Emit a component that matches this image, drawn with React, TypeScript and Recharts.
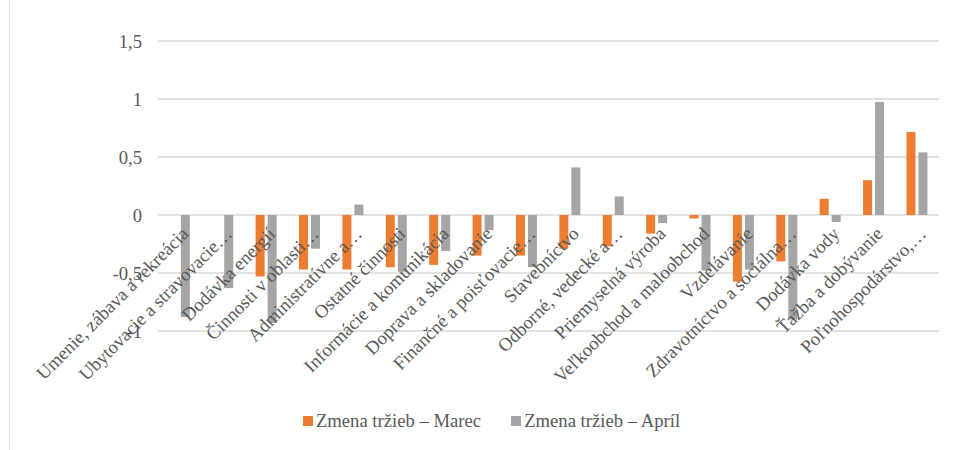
import { BarChart, Bar, XAxis, YAxis, CartesianGrid, Legend } from "recharts";

const categories = [
  "Umenie, zábava a rekreácia",
  "Ubytovacie a stravovacie…",
  "Dodávka energií",
  "Činnosti v oblasti…",
  "Administratívne a…",
  "Ostatné činnosti",
  "Informácie a komunikácia",
  "Doprava a skladovanie",
  "Finančné a poisťovacie…",
  "Stavebníctvo",
  "Odborné, vedecké a…",
  "Priemyselná výroba",
  "Veľkoobchod a maloobchod",
  "Vzdelávanie",
  "Zdravotníctvo a sociálna…",
  "Dodávka vody",
  "Ťažba a dobývanie",
  "Poľnohospodárstvo,…",
];

const marec = [null, null, -0.53, -0.47, -0.47, -0.45, -0.43, -0.35, -0.35, -0.29, -0.27, -0.16, -0.03, -0.575, -0.4, 0.14, 0.3, 0.715];
const april = [-0.88, -0.63, -0.93, -0.29, 0.09, -0.49, -0.31, -0.13, -0.45, 0.41, 0.16, -0.07, -0.48, -0.47, -0.9, -0.06, 0.975, 0.54];

const seriesNames = ["Zmena tržieb – Marec", "Zmena tržieb – Apríl"];
const yTicks = [-1, -0.5, 0, 0.5, 1, 1.5];

const data = categories.map((name, i) => ({ name, marec: marec[i], april: april[i] }));

const W = 955;
const H = 450;
const TOP = 41;
const LEGEND_H = 40;
const XAXIS_H = 79;
const PLOT_H = H - TOP - LEGEND_H - XAXIS_H;
const Y_MIN = yTicks[0];
const Y_MAX = yTicks[yTicks.length - 1];
// category labels sit on the zero line, not on the bottom of the plot
const ZERO_SHIFT = (PLOT_H * (0 - Y_MIN)) / (Y_MAX - Y_MIN);

const FONT = "Liberation Serif";
const TEXT = "#595959";
const FS = 18.67;

const CategoryTick = (props: any) => {
  const { x, y, payload } = props;
  const zy = y - 8 - ZERO_SHIFT;
  return (
    <text
      transform={`translate(${x + 10},${zy + 20}) rotate(-45)`}
      textAnchor="end"
      fill={TEXT}
      fontSize={FS}
      fontFamily={FONT}
    >
      {payload.value}
    </text>
  );
};

const LegendContent = (props: any) => {
  const items = [...props.payload].sort(
    (a: any, b: any) => seriesNames.indexOf(a.value) - seriesNames.indexOf(b.value)
  );
  return (
    <div style={{ height: LEGEND_H, display: "flex", justifyContent: "center", paddingLeft: 28, lineHeight: "20px", fontFamily: FONT }}>
      {items.map((p: any, i: number) => (
        <div key={p.value} style={{ display: "flex", alignItems: "center", height: 20, marginLeft: i ? 30 : 0, color: TEXT, fontSize: FS }}>
          <span style={{ width: 10, height: 10, background: p.color, marginRight: 3, display: "inline-block" }} />
          {p.value}
        </div>
      ))}
    </div>
  );
};

export default function App() {
  return (
    <div style={{ position: "absolute", left: 0, top: 0, width: W, height: H, overflow: "hidden", fontFamily: FONT, background: "#fff" }}>
      <div style={{ position: "absolute", left: 9, top: -10, width: W + 20, height: H + 20, border: "1px solid #d9d9d9" }} />
      <BarChart
        width={W}
        height={H}
        data={data}
        margin={{ top: TOP, right: 16, bottom: 0, left: 98 }}
        barCategoryGap="25%"
        barGap={3}
      >
        <CartesianGrid vertical={false} stroke="#d9d9d9" strokeWidth={1.3} />
        <YAxis
          width={60}
          domain={[Y_MIN, Y_MAX]}
          ticks={yTicks}
          axisLine={false}
          tickLine={false}
          tickMargin={10}
          tick={{ fill: TEXT, fontSize: FS, fontFamily: FONT }}
          tickFormatter={(v: number) => String(v).replace(".", ",")}
        />
        <Bar dataKey="marec" name={seriesNames[0]} fill="#ED7D31" isAnimationActive={false} />
        <Bar dataKey="april" name={seriesNames[1]} fill="#A5A5A5" isAnimationActive={false} />
        <XAxis
          dataKey="name"
          interval={0}
          height={XAXIS_H}
          axisLine={false}
          tickLine={false}
          tick={<CategoryTick />}
        />
        <Legend
          verticalAlign="bottom"
          height={LEGEND_H}
          wrapperStyle={{ left: 0, width: W, top: 411, bottom: "auto" }}
          content={<LegendContent />}
        />
      </BarChart>
    </div>
  );
}
